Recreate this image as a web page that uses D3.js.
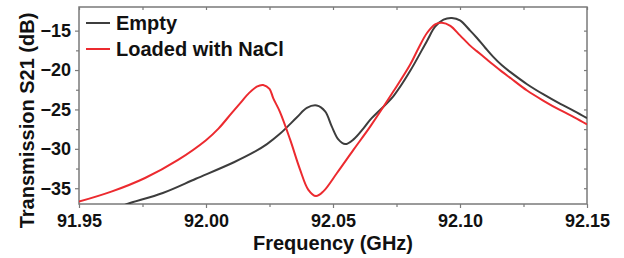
<!DOCTYPE html>
<html>
<head>
<meta charset="utf-8">
<script src="https://cdn.jsdelivr.net/npm/d3@7/dist/d3.min.js"></script>
<style>
  body { margin: 0; background: #fff; }
  text { font-family: "Liberation Sans", Arial, sans-serif; font-weight: bold; fill: #111; }
</style>
</head>
<body>
<div id="main"></div>
<script>
// chart data (frequency in GHz, S21 in dB)
const emptyFreq = [91.966, 91.969, 91.983, 91.996, 92.011, 92.019, 92.024, 92.0291, 92.0358,
  92.0397, 92.0436, 92.0469, 92.0495, 92.0521, 92.0548, 92.0581, 92.062, 92.0647, 92.0738,
  92.0804, 92.087, 92.0902, 92.0935, 92.0968, 92.100, 92.104, 92.1066, 92.110, 92.113,
  92.1165, 92.120, 92.1264, 92.1329, 92.1395, 92.145, 92.150];
const emptyS21 = [-37.4, -37.0, -35.6, -33.8, -31.7, -30.4, -29.4, -28.1, -26.0,
  -24.8, -24.5, -25.25, -27.15, -28.8, -29.4, -28.8, -27.4, -26.3, -23.3,
  -20.1, -16.3, -14.5, -13.6, -13.4, -13.7, -15.0, -15.9, -17.2, -18.3,
  -19.4, -20.3, -21.8, -23.1, -24.3, -25.2, -26.1];

const naclFreq = [91.950, 91.963, 91.976, 91.989, 92.000, 92.005, 92.010, 92.014, 92.017, 92.020,
  92.0225, 92.025, 92.0265, 92.0291, 92.0331, 92.037, 92.0403, 92.0433, 92.0462, 92.0515,
  92.0581, 92.0647, 92.0738, 92.0804, 92.0837, 92.087, 92.0902, 92.0929, 92.0962, 92.100,
  92.104, 92.1066, 92.110, 92.113, 92.1165, 92.120, 92.1264, 92.1329, 92.1395, 92.145, 92.150];
const naclS21 = [-36.7, -35.4, -33.7, -31.4, -28.9, -27.4, -25.5, -24.0, -22.9, -22.1,
  -21.9, -22.4, -23.6, -25.3, -28.8, -32.6, -35.2, -36.0, -35.4, -33.1,
  -30.1, -27.15, -22.7, -19.3, -17.2, -15.3, -14.2, -14.0, -14.4, -15.6,
  -16.9, -17.6, -18.5, -19.3, -20.2, -21.05, -22.6, -23.9, -25.1, -26.0, -26.9];

const seriesNames = ["Empty", "Loaded with NaCl"];
const seriesColors = ["#3d3d3d", "#ec2a2f"];
const xTicks = [91.95, 92.00, 92.05, 92.10, 92.15];
const xMinor = [91.975, 92.025, 92.075, 92.125];
const yTicks = [-15, -20, -25, -30, -35];
const yMinor = [-17.5, -22.5, -27.5, -32.5];

const width = 624, height = 258;
const padL = 79, padR = 587, padT = 7, padB = 204;

const svg = d3.select('#main').append('svg')
  .attr('width', width).attr('height', height);

const x = d3.scaleLinear().domain([91.95, 92.15]).range([padL, padR]);
const y = d3.scaleLinear().domain([-37, -12]).range([padB, padT]);

svg.append('defs').append('clipPath').attr('id', 'clip')
  .append('rect').attr('x', padL).attr('y', padT)
  .attr('width', padR - padL).attr('height', padB - padT);

// axes (ticks out on left/bottom, in on top/right)
const axisColor = '#7a7a7a';
function styleAxis(g) {
  g.select('.domain').remove();
  g.selectAll('.tick line').attr('stroke', axisColor).attr('stroke-width', 1.2);
  g.selectAll('text').attr('font-size', 18).attr('fill', '#111');
}
svg.append('g').attr('transform', `translate(0,${padB})`)
  .call(d3.axisBottom(x).tickValues(xTicks).tickFormat(d3.format('.2f')).tickSize(4).tickPadding(6))
  .call(styleAxis);
svg.append('g').attr('transform', `translate(0,${padB})`)
  .call(d3.axisBottom(x).tickValues(xMinor).tickFormat('').tickSize(3))
  .call(styleAxis);
svg.append('g').attr('transform', `translate(${padL},0)`)
  .call(d3.axisLeft(y).tickValues(yTicks).tickSize(4).tickPadding(4))
  .call(styleAxis);
svg.append('g').attr('transform', `translate(${padL},0)`)
  .call(d3.axisLeft(y).tickValues(yMinor).tickFormat('').tickSize(3))
  .call(styleAxis);
svg.append('g').attr('transform', `translate(0,${padT})`)
  .call(d3.axisBottom(x).tickValues(xTicks.concat(xMinor)).tickFormat('').tickSize(3))
  .call(styleAxis);
svg.append('g').attr('transform', `translate(${padR},0)`)
  .call(d3.axisLeft(y).tickValues(yTicks.concat(yMinor)).tickFormat('').tickSize(3))
  .call(styleAxis);

svg.append('rect').attr('x', padL).attr('y', padT)
  .attr('width', padR - padL).attr('height', padB - padT)
  .attr('fill', 'none').attr('stroke', axisColor).attr('stroke-width', 1.5);

// curves
const line = d3.line()
  .x(d => x(d[0])).y(d => y(d[1]))
  .curve(d3.curveCatmullRom.alpha(0.5));

const series = [
  d3.zip(emptyFreq, emptyS21),
  d3.zip(naclFreq, naclS21)
];
svg.append('g').attr('clip-path', 'url(#clip)')
  .selectAll('path').data(series).enter().append('path')
  .attr('d', line)
  .attr('fill', 'none')
  .attr('stroke', (d, i) => seriesColors[i])
  .attr('stroke-width', 2);

// legend
const legend = svg.append('g');
seriesNames.forEach((name, i) => {
  const ly = 23 + i * 26;
  legend.append('line').attr('x1', 86).attr('x2', 110).attr('y1', ly).attr('y2', ly)
    .attr('stroke', seriesColors[i]).attr('stroke-width', 2);
  legend.append('text').attr('x', 116).attr('y', ly + 7).attr('font-size', 20).text(name);
});

// axis titles
svg.append('text')
  .attr('transform', `translate(34,${(padT + padB) / 2 + 15}) rotate(-90)`)
  .attr('text-anchor', 'middle').attr('font-size', 20)
  .text('Transmission S21 (dB)');
svg.append('text')
  .attr('x', (padL + padR) / 2).attr('y', 250)
  .attr('text-anchor', 'middle').attr('font-size', 20)
  .text('Frequency (GHz)');
</script>
</body>
</html>
